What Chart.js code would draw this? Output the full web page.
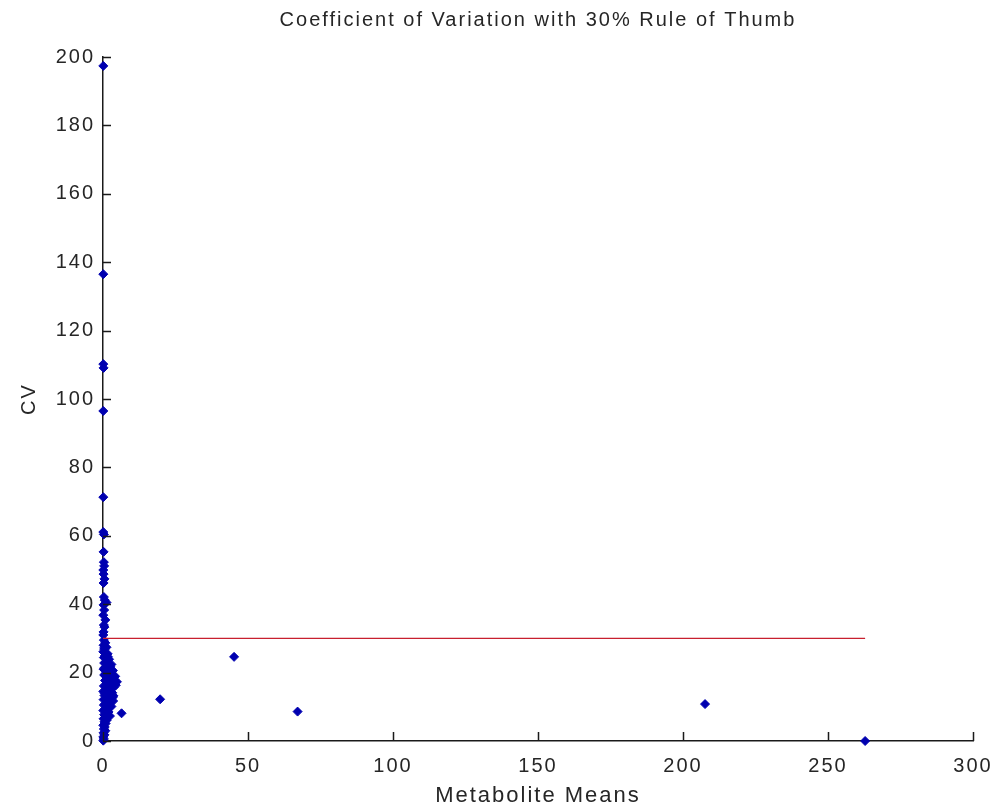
<!DOCTYPE html>
<html>
<head>
<meta charset="utf-8">
<script src="https://cdn.jsdelivr.net/npm/chart.js@4/dist/chart.umd.min.js"></script>
<style>
  html, body { margin: 0; padding: 0; background: #ffffff; }
  #wrap { width: 999px; height: 808px; position: relative; }
  canvas { display: block; }
</style>
</head>
<body>
<div id="wrap"><canvas id="cv" width="999" height="808"></canvas></div>
<script>
// Metabolite means (x) and their coefficient of variation in percent (y)
const metaboliteMeans = [
  0.1, 0.1, 0.1, 0.2, 0.1, 0.1, 0.1, 0.3, 0.2, 0.3, 0.4, 0.1, 0.2, 0.5, 0.2, 0.3, 0.6, 0.2, 1.2, 0.4, 0.1, 0.8, 0.3, 0.5, 0.2, 0.1,
  0.3, 0.8, 0.2, 1.2, 0.5, 0.1, 1.6, 0.7, 0.3, 2.1, 1.1, 0.4, 2.9, 1.5, 0.6, 0.2,
  3.4, 2.3, 1.0, 0.4, 4.2, 3.1, 1.8, 0.7, 4.8, 2.6, 1.3, 0.3, 3.7, 2.0, 0.9, 0.1,
  3.2, 1.6, 0.5, 2.7, 1.1, 0.2, 3.5, 2.2, 0.8, 0.3, 2.9, 1.4, 0.6, 0.1,
  1.9, 1.0, 0.4, 2.4, 0.7, 0.2, 1.3, 0.5, 0.9, 0.1, 0.6, 0.3, 0.8, 0.2, 0.5, 0.1, 0.3, 0.1,
  1.7, 2.5, 0.9, 3.9, 1.4, 2.8, 0.6, 4.4, 3.3, 1.2, 2.0, 3.6, 0.4, 1.5,
  6.4, 19.7, 45.2, 67.1, 207.6, 262.8
];
const cvValues = [
  197.4, 136.5, 110.2, 109.1, 96.5, 71.3, 61.1, 60.4, 55.3, 52.3, 51.2, 50.0, 48.8, 47.4, 46.2, 42.1, 41.2, 39.8, 40.5, 38.3, 36.8, 35.4, 33.9, 33.3, 31.9, 31.0,
  29.5, 28.7, 28.0, 27.4, 26.8, 26.1, 25.5, 25.0, 24.4, 23.9, 23.3, 22.8, 22.4, 22.0, 21.5, 21.0,
  20.6, 20.2, 19.8, 19.3, 18.9, 18.5, 18.1, 17.7, 17.3, 16.9, 16.5, 16.1, 15.7, 15.3, 14.9, 14.5,
  14.1, 13.7, 13.3, 12.9, 12.5, 12.1, 11.7, 11.3, 10.9, 10.5, 10.1, 9.7, 9.3, 8.9,
  8.5, 8.1, 7.7, 7.3, 6.9, 6.5, 6.1, 5.6, 5.1, 4.6, 4.1, 3.5, 3.0, 2.4, 1.8, 1.2, 0.6, 0.1,
  24.6, 21.7, 19.1, 17.9, 16.8, 15.1, 13.9, 16.3, 12.7, 11.0, 9.9, 13.2, 27.2, 22.6,
  8.1, 12.2, 24.6, 8.6, 10.8, 0.0
];
// 30% rule-of-thumb threshold, drawn across the range of means
const thresholdCV = 30;
const thresholdRange = [0, 262.8];

const xTickStep = 50, xMax = 300;
const yTickStep = 20, yMax = 200;

const points = metaboliteMeans.map((m, i) => ({ x: m, y: cvValues[i] }));
const thresholdLine = thresholdRange.map(m => ({ x: m, y: thresholdCV }));

const textColor = '#262626';
const fontFamily = '"Liberation Sans", Arial, sans-serif';

// Slightly tracked-out lettering for every text item on the canvas
const tracking = {
  id: 'tracking',
  beforeUpdate(chart) { chart.ctx.letterSpacing = '2px'; },
  beforeDraw(chart) { chart.ctx.letterSpacing = '2px'; }
};

// Tick marks pointing into the plot area
const inwardTicks = {
  id: 'inwardTicks',
  afterDraw(chart) {
    const { ctx, scales: { x, y } } = chart;
    ctx.save();
    ctx.strokeStyle = '#1a1a1a';
    ctx.lineWidth = 1.5;
    ctx.beginPath();
    x.ticks.forEach(t => {
      const px = Math.round(x.getPixelForValue(t.value)) + 0.5;
      ctx.moveTo(px, y.bottom);
      ctx.lineTo(px, y.bottom - 9);
    });
    y.ticks.forEach(t => {
      const py = Math.round(y.getPixelForValue(t.value)) + 0.5;
      ctx.moveTo(x.left, py);
      ctx.lineTo(x.left + 8, py);
    });
    ctx.stroke();
    ctx.restore();
  }
};

new Chart(document.getElementById('cv'), {
  type: 'scatter',
  data: {
    datasets: [
      {
        type: 'line',
        data: thresholdLine,
        borderColor: '#c8202f',
        borderWidth: 1.2,
        pointRadius: 0,
        fill: false,
        order: 0
      },
      {
        data: points,
        pointStyle: 'rectRot',
        pointRadius: 4.5,
        backgroundColor: '#0000b0',
        borderColor: '#0000b0',
        borderWidth: 1,
        order: 1
      }
    ]
  },
  plugins: [tracking, inwardTicks],
  options: {
    responsive: false,
    animation: false,
    devicePixelRatio: 1,
    clip: false,
    layout: { padding: { left: 0, right: 26, top: 0, bottom: 0 } },
    plugins: {
      legend: { display: false },
      tooltip: { enabled: false },
      title: {
        display: true,
        fullSize: false,
        text: 'Coefficient of Variation with 30% Rule of Thumb',
        color: textColor,
        font: { family: fontFamily, size: 20, weight: 'normal', lineHeight: 1.2 },
        padding: { top: 8, bottom: 25 }
      }
    },
    scales: {
      x: {
        type: 'linear',
        min: 0,
        max: xMax,
        afterFit(s) { s.height = 67; s.paddingLeft = 0; s.paddingRight = 0; },
        ticks: {
          stepSize: xTickStep,
          color: textColor,
          font: { family: fontFamily, size: 20 },
          padding: 13,
          maxRotation: 0
        },
        grid: { display: false, drawTicks: false },
        border: { display: true, color: '#1a1a1a', width: 1.5 },
        title: {
          display: true,
          text: 'Metabolite Means',
          color: textColor,
          font: { family: fontFamily, size: 22, lineHeight: 1.2 },
          padding: { top: 0, bottom: -1 }
        }
      },
      y: {
        type: 'linear',
        min: 0,
        max: yMax,
        afterFit(s) { s.width = 103; s.paddingTop = 0; s.paddingBottom = 0; },
        ticks: {
          stepSize: yTickStep,
          color: textColor,
          font: { family: fontFamily, size: 20 },
          padding: 8
        },
        grid: { display: false, drawTicks: false },
        border: { display: true, color: '#1a1a1a', width: 1.5 },
        title: {
          display: true,
          text: 'CV',
          color: textColor,
          font: { family: fontFamily, size: 20, lineHeight: 1.2 },
          padding: { top: 17, bottom: 0 }
        }
      }
    }
  }
});
</script>
</body>
</html>
